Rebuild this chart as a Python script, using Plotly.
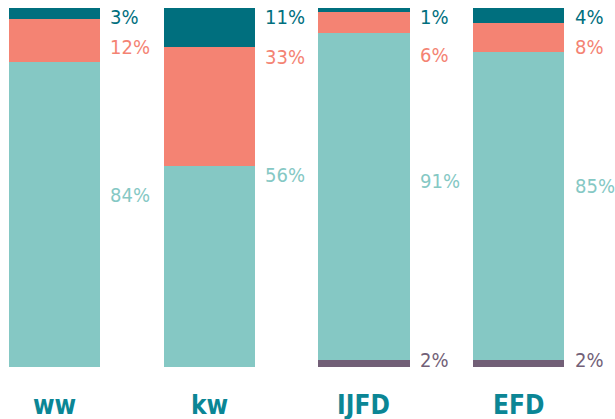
import plotly.graph_objects as go

categories = ["ww", "kw", "IJFD", "EFD"]
purple_vals = [0, 0, 2, 2]
teal_vals = [84, 56, 91, 85]
salmon_vals = [12, 33, 6, 8]
dark_vals = [3, 11, 1, 4]

# label anchor heights (percent of bar) for the value labels beside each bar
dark_label_y = [97.5, 97.6, 97.6, 97.6]
salmon_label_y = [89.0, 86.4, 86.9, 89.0]
teal_label_y = [48.0, 53.6, 51.9, 50.3]
purple_label_y = [2.0, 2.0, 2.0, 2.0]

C_PURPLE = "#725f77"
C_TEAL = "#85c8c4"
C_SALMON = "#f48373"
C_DARK = "#006f7e"
C_CAT = "#0b8695"

FONT = "DejaVu Sans Condensed"

series = [
    (purple_vals, C_PURPLE, purple_label_y),
    (teal_vals, C_TEAL, teal_label_y),
    (salmon_vals, C_SALMON, salmon_label_y),
    (dark_vals, C_DARK, dark_label_y),
]

fig = go.Figure()
for vals, col, _ in series:
    fig.add_trace(go.Bar(x=categories, y=vals, marker=dict(color=col, line=dict(width=0)),
                         hoverinfo="skip", showlegend=False))

annotations = []
for vals, col, ly in series:
    for cat, v, yy in zip(categories, vals, ly):
        if v <= 0:
            continue
        annotations.append(dict(x=cat, y=yy, xref="x", yref="y", text=f"{v}%",
                                showarrow=False, xanchor="left", yanchor="middle",
                                xshift=54, font=dict(family=FONT, size=20, color=col)))
for cat in categories:
    annotations.append(dict(x=cat, y=0, xref="x", yref="paper", text=cat,
                            showarrow=False, xanchor="center", yanchor="middle",
                            yshift=-38, font=dict(family=FONT, size=26, color=C_CAT,
                                                  weight=600)))

fig.update_layout(
    barmode="stack", barnorm="percent", bargap=0.41,
    width=615, height=419,
    margin=dict(l=0, r=0, t=8, b=52),
    paper_bgcolor="white", plot_bgcolor="white",
    hovermode=False,
    xaxis=dict(range=[-0.352, 3.623], showticklabels=False, showgrid=False, zeroline=False,
               showline=False, ticks=""),
    yaxis=dict(range=[0, 100], visible=False),
    annotations=annotations,
)

fig.write_html("out.html", config={"displayModeBar": False, "staticPlot": True},
               post_script="document.body.style.margin='0';")
